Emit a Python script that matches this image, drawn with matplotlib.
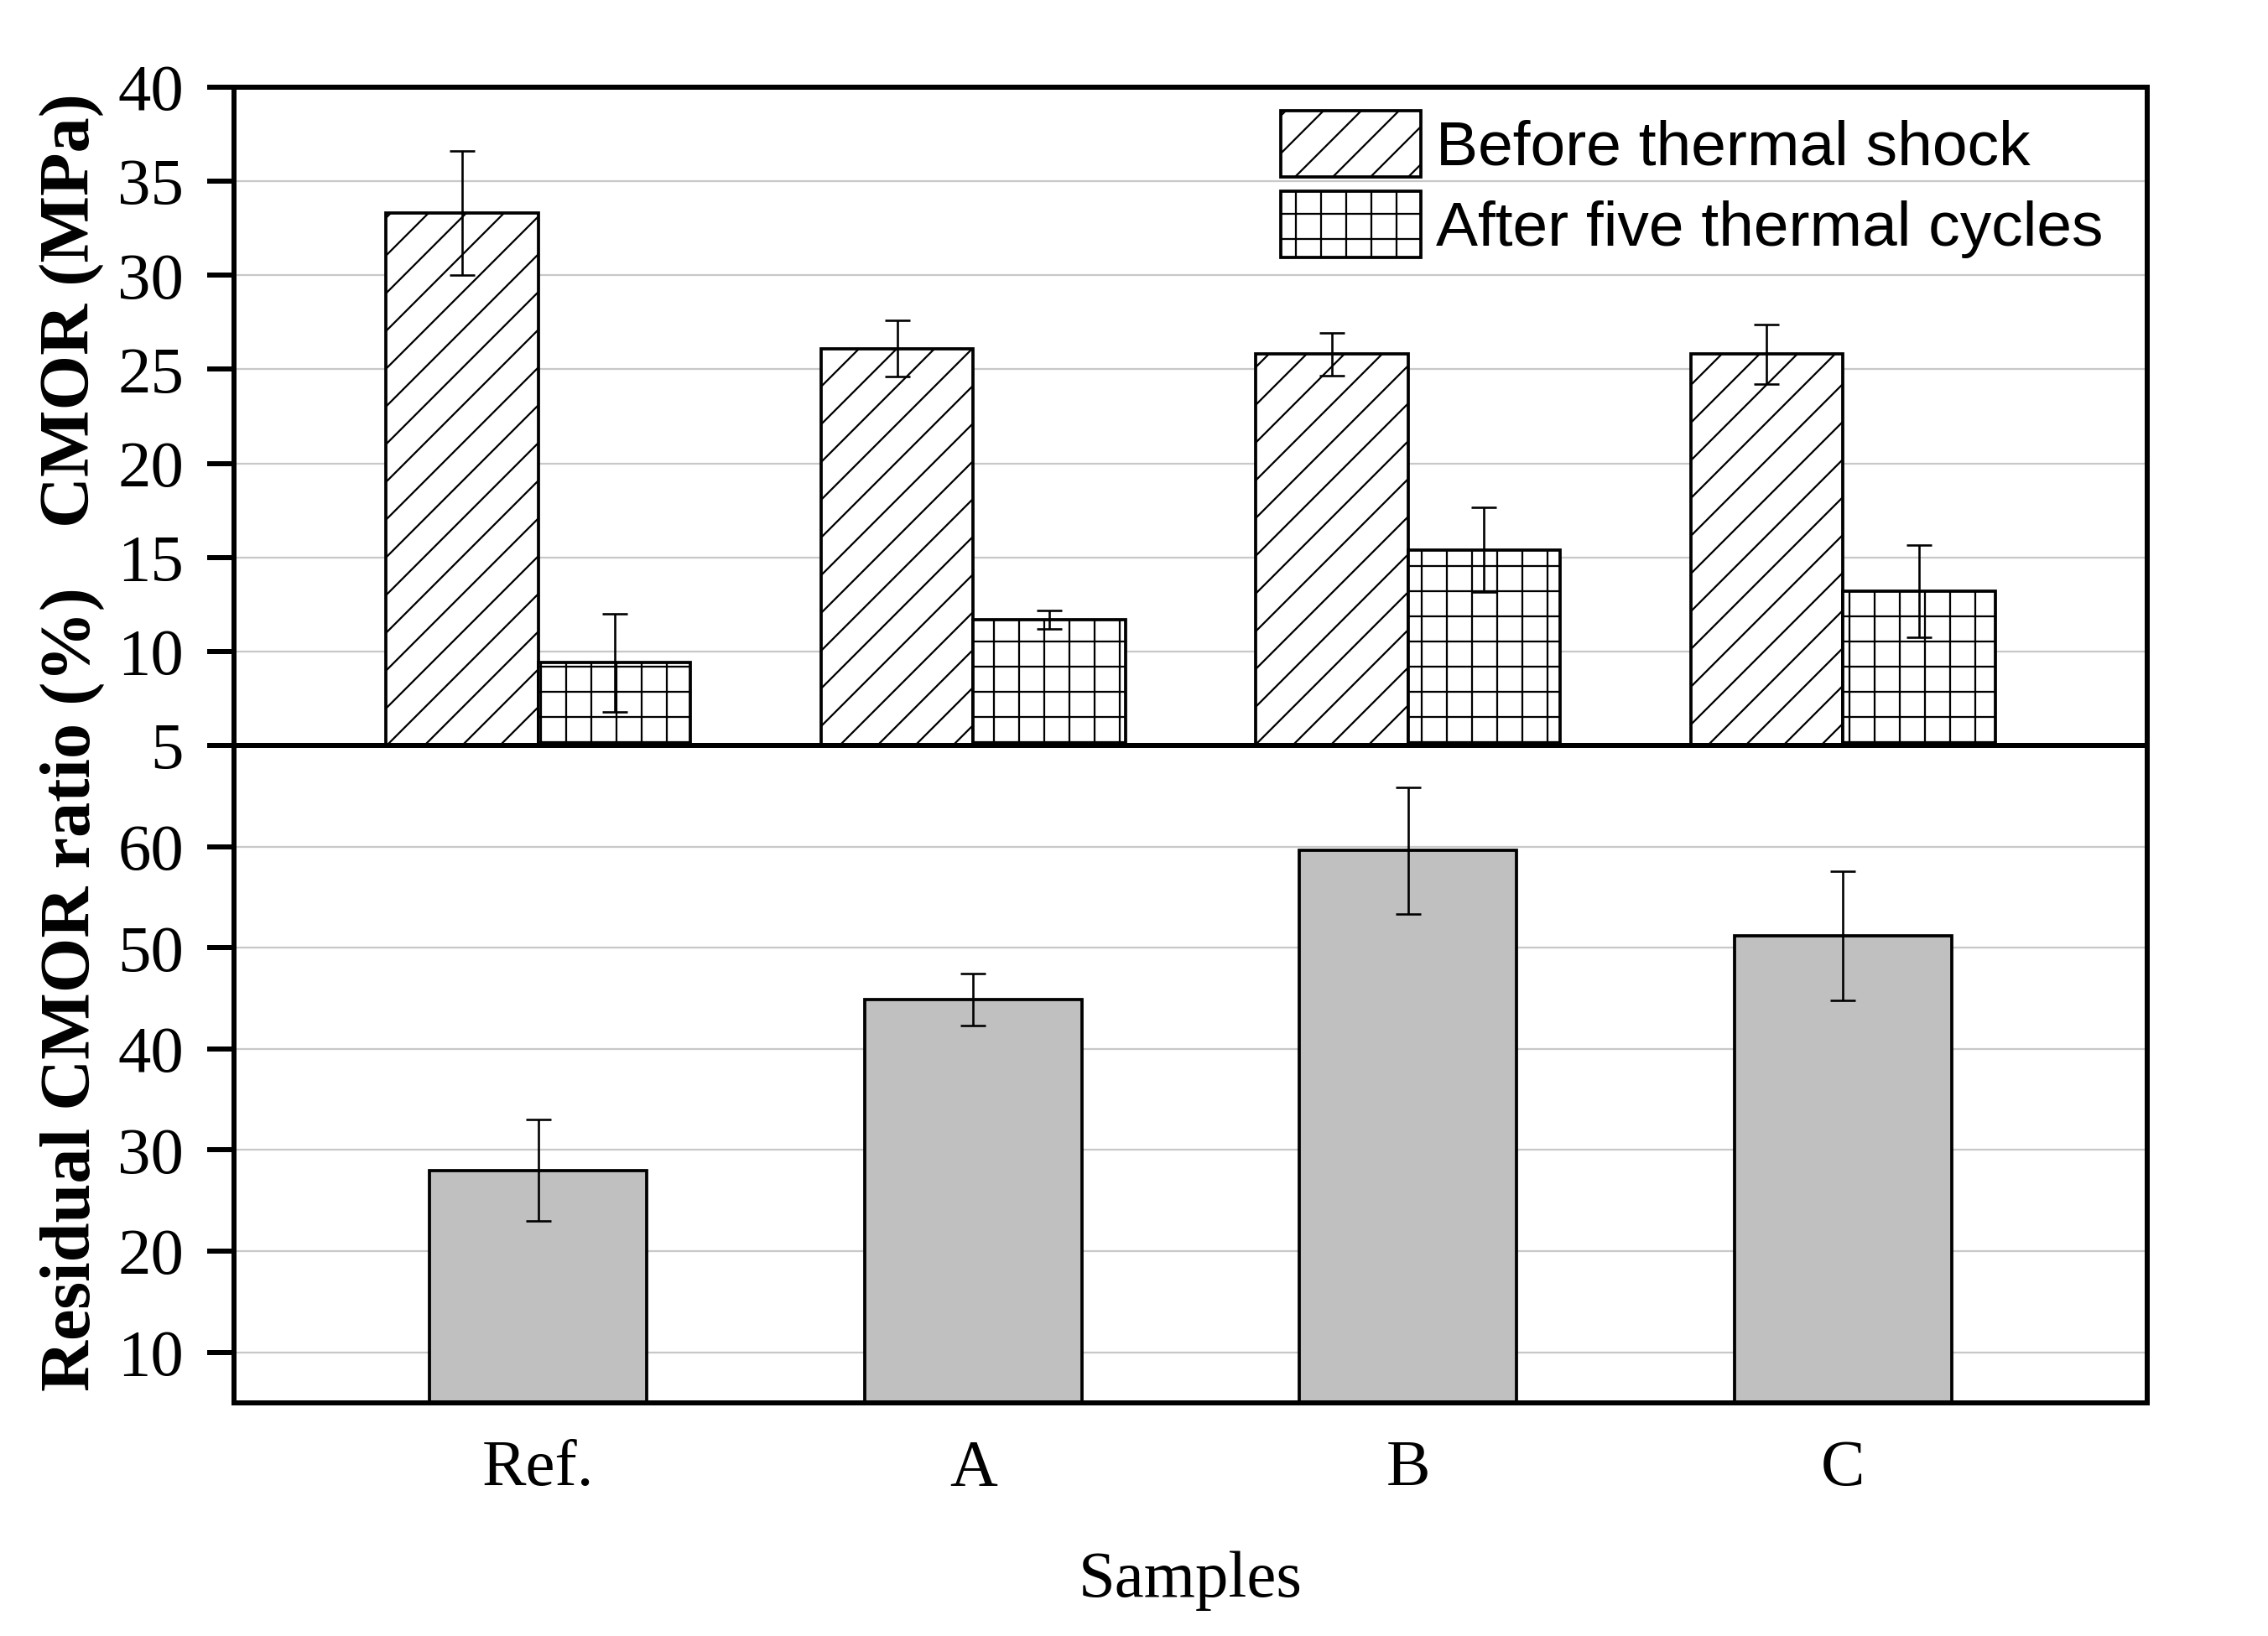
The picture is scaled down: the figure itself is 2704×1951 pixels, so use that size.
import matplotlib
matplotlib.use('Agg')
import matplotlib.pyplot as plt
import matplotlib.hatch as mhatch
import numpy as np

# ---- data ----
samples = ['Ref.', 'A', 'B', 'C']
before = [33.3, 26.1, 25.8, 25.8]
before_err = [3.3, 1.5, 1.15, 1.6]
after = [9.4, 11.7, 15.4, 13.2]
after_err = [2.6, 0.5, 2.25, 2.45]
residual = [28.0, 44.9, 59.6, 51.2]
residual_err = [5.0, 2.55, 6.25, 6.4]
top_ticks = [5, 10, 15, 20, 25, 30, 35, 40]
bottom_ticks = [10, 20, 30, 40, 50, 60]
legend_labels = ['Before thermal shock', 'After five thermal cycles']


# slightly denser grid ('+') hatch, as in the reference
class _DenseHorizontal(mhatch.HorizontalHatch):
    def __init__(self, hatch, density):
        super().__init__(hatch, density)
        self.num_lines = int(round(self.num_lines * 1.45))
        self.num_vertices = self.num_lines * 2


class _DenseVertical(mhatch.VerticalHatch):
    def __init__(self, hatch, density):
        super().__init__(hatch, density)
        self.num_lines = int(round(self.num_lines * 1.45))
        self.num_vertices = self.num_lines * 2


mhatch._hatch_types = [
    _DenseHorizontal if t is mhatch.HorizontalHatch else
    _DenseVertical if t is mhatch.VerticalHatch else t
    for t in mhatch._hatch_types
]

plt.rcParams['font.family'] = ['Liberation Serif', 'DejaVu Serif']
plt.rcParams['hatch.linewidth'] = 0.6

DPI = 270
fig = plt.figure(figsize=(2704 / DPI, 1951 / DPI), dpi=DPI)

L, W = 279 / 2704, (2560 - 279) / 2704
y_top = 1 - 104 / 1951
y_mid = 1 - 889 / 1951
y_bot = 1 - 1673 / 1951
ax1 = fig.add_axes([L, y_mid, W, y_top - y_mid])
ax2 = fig.add_axes([L, y_bot, W, y_mid - y_bot])

x = np.arange(len(samples))
bw = 0.35
err_kw = dict(ecolor='black', elinewidth=0.7, capsize=4, capthick=0.7)
edge_lw = 1.0

b1 = ax1.bar(x - bw / 2, before, bw, yerr=before_err, facecolor='white',
             edgecolor='black', linewidth=edge_lw, hatch='//', error_kw=err_kw,
             label=legend_labels[0])
b2 = ax1.bar(x + bw / 2, after, bw, yerr=after_err, facecolor='white',
             edgecolor='black', linewidth=edge_lw, hatch='+', error_kw=err_kw,
             label=legend_labels[1])

ax2.bar(x, residual, 0.5, yerr=residual_err, facecolor='#c0c0c0',
        edgecolor='black', linewidth=edge_lw, error_kw=err_kw)

for ax in (ax1, ax2):
    ax.set_xlim(-0.7, 3.7)
    ax.set_axisbelow(True)
    ax.grid(axis='y', color='#c8c8c8', linewidth=0.6)
    ax.grid(axis='x', visible=False)
    for s in ax.spines.values():
        s.set_linewidth(1.6)
    ax.tick_params(axis='y', which='major', direction='out', length=8.5,
                   width=1.6, pad=7.5, labelsize=21, right=False)
    ax.tick_params(axis='x', length=0, labelsize=21, pad=11.5)

ax1.set_ylim(5, 40)
ax1.set_yticks(top_ticks)
ax1.set_xticks(x)
ax1.tick_params(axis='x', labelbottom=False)

ax2.set_ylim(5, 70)
ax2.set_yticks(bottom_ticks)
ax2.set_xticks(x)
ax2.set_xticklabels(samples)
ax2.set_xlabel('Samples', fontsize=21, labelpad=16.5)

fig.text(86 / 2704, 1 - 370 / 1951, 'CMOR (MPa)', rotation=90, ha='center',
         va='center', fontsize=22.5, fontweight='bold')
fig.text(86 / 2704, 1 - 1180 / 1951, 'Residual CMOR ratio (%)', rotation=90,
         ha='center', va='center', fontsize=22.5, fontweight='bold')

leg = ax1.legend(handles=[b1, b2], loc='upper left',
                 bbox_to_anchor=(1527 / 2704, 1 - 132 / 1951),
                 bbox_transform=fig.transFigure, frameon=False,
                 borderpad=0, borderaxespad=0, handlelength=2.22,
                 handleheight=1.25, labelspacing=0.21, handletextpad=0.25,
                 prop={'family': ['Liberation Sans', 'DejaVu Sans'], 'size': 20})

fig.savefig('out.png', dpi=DPI, facecolor='white')
